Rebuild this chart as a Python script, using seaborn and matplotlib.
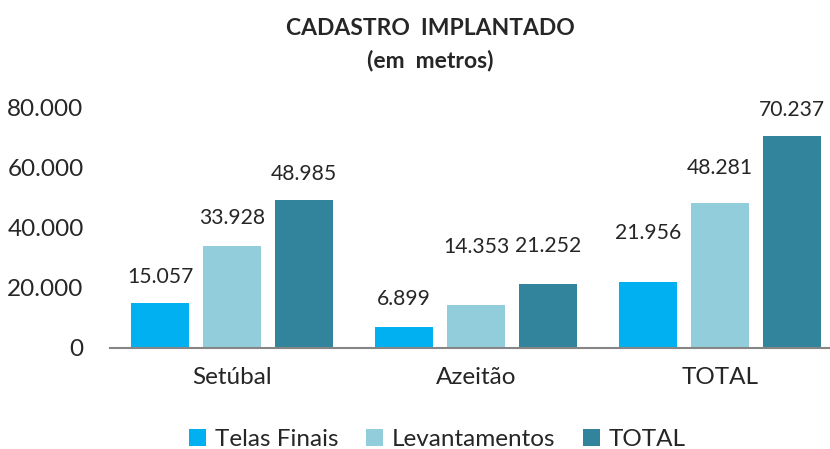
import pandas as pd
import seaborn as sns
import matplotlib.pyplot as plt
from matplotlib.patches import Patch

# Chart data
locais = ['Setúbal', 'Azeitão', 'TOTAL']
series = ['Telas Finais', 'Levantamentos', 'TOTAL']
telas_finais = [15057, 6899, 21956]
levantamentos = [33928, 14353, 48281]
total = [48985, 21252, 70237]

cores = ['#00B0F0', '#92CDDC', '#31849B']
# label offset above bar top, in pixels (Excel moved some labels)
offsets = {
    'Telas Finais': [26, 28, 49],
    'Levantamentos': [28, 58, 35],
    'TOTAL': [26, 38, 26],
}

df = pd.DataFrame({'local': locais, 'Telas Finais': telas_finais,
                   'Levantamentos': levantamentos, 'TOTAL': total})
df = pd.melt(df, id_vars=['local'], value_vars=series, var_name='serie', value_name='metros')

sns.set_style('white')
plt.rcParams['font.family'] = ['Lato', 'DejaVu Sans']

fig = plt.figure(figsize=(8.3, 4.49), dpi=100)
ax = fig.add_axes([110 / 830, 101 / 449, 1 - 110 / 830, 241 / 449])

sns.barplot(data=df, x='local', y='metros', hue='serie', hue_order=series,
            palette=cores, width=0.885, gap=0.2, saturation=1, ax=ax,
            legend=False, edgecolor='none')

ax.set_ylim(0, 80000)
ax.set_xlim(-0.5, 2.5 - 12 / 244)
ax.set_yticks([0, 20000, 40000, 60000, 80000])
ax.set_yticklabels(['0', '20.000', '40.000', '60.000', '80.000'])
ax.set_xlabel('')
ax.set_ylabel('')
ax.tick_params(axis='y', length=0, labelsize=17.5, pad=19)
ax.tick_params(axis='x', length=0, labelsize=17.5, pad=14)

for s in ['top', 'right', 'left']:
    ax.spines[s].set_visible(False)
ax.spines['bottom'].set_color('#868686')
ax.spines['bottom'].set_linewidth(1.5)

# value labels
for cont, serie in zip(ax.containers, series):
    for bar, off in zip(cont, offsets[serie]):
        h = bar.get_height()
        ax.annotate(f'{h:,.0f}'.replace(',', '.'),
                    (bar.get_x() + bar.get_width() / 2, h),
                    xytext=(0, off), textcoords='offset pixels',
                    ha='center', va='center', fontsize=15.2, annotation_clip=False)

fig.text(0.518, 0.937, 'CADASTRO  IMPLANTADO', ha='center', va='center',
         fontsize=16.5, fontweight='bold')
fig.text(0.518, 0.866, '(em  metros)', ha='center', va='center',
         fontsize=16.5, fontweight='bold')

handles = [Patch(facecolor=c, edgecolor='none') for c in cores]
fig.legend(handles, series, loc='center', bbox_to_anchor=(0.527, 0.022), ncol=3,
           frameon=False, fontsize=17.5, handlelength=0.7, handleheight=0.7,
           handletextpad=0.35, columnspacing=1.15)

fig.savefig('out.png', dpi=100)
